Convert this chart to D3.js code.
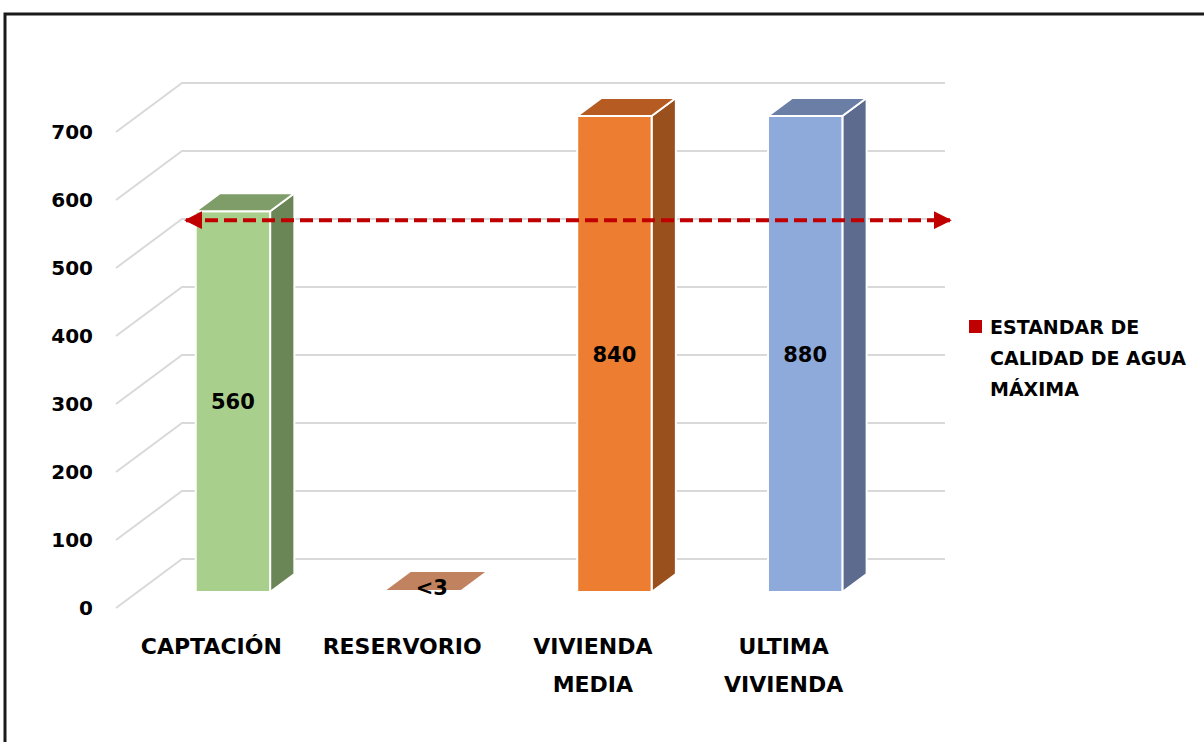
<!DOCTYPE html>
<html>
<head>
<meta charset="utf-8">
<script src="https://cdn.jsdelivr.net/npm/d3@7"></script>
<style>
  body { margin: 0; background: #fff; }
  text { font-family: "DejaVu Sans", sans-serif; font-weight: bold; fill: #000; }
</style>
</head>
<body>
<div id="plot"></div>
<script>
// data
const categories = ["CAPTACIÓN", "RESERVORIO", "VIVIENDA MEDIA", "ULTIMA VIVIENDA"];
const labelLines = [["CAPTACIÓN"], ["RESERVORIO"], ["VIVIENDA", "MEDIA"], ["ULTIMA", "VIVIENDA"]];
const values = [560, 3, 840, 880];
const valueLabels = ["560", "<3", "840", "880"];
const yTicks = [0, 100, 200, 300, 400, 500, 600, 700];
const standardValue = 560;
const legendLines = ["ESTANDAR DE", "CALIDAD DE AGUA", "MÁXIMA"];

const faceColors = [
  { front: "#A9CF8C", side: "#6A8656", top: "#7E9D68" },
  { front: "#C0825F", side: "#9A5F40", top: "#C0825F" },
  { front: "#ED7D31", side: "#9A501D", top: "#B65B22" },
  { front: "#8EAADB", side: "#5C6B8E", top: "#6A7EA6" }
];

const W = 1204, H = 742;
const svg = d3.select("#plot").append("svg")
  .attr("width", W).attr("height", H);

// floor geometry (front grid plane)
const x0 = 116, x1 = 879, yBase = 608;
const DX = 66, DY = 49;          // full floor depth offset
const barFront = 16, barDepth = 18; // bar depth position along DY
const k = DX / DY;

const x = d3.scaleBand().domain(categories).range([x0, x1])
  .paddingInner(0.61).paddingOuter(0.305);
const xStep = d3.scaleBand().domain(categories).range([x0, x1]);
const h = d3.scaleLinear().domain([0, 700]).range([0, 476]).clamp(true);

// frame
svg.append("path")
  .attr("d", `M5,${H} L5,14 L${W},14`)
  .attr("fill", "none").attr("stroke", "#1a1a1a").attr("stroke-width", 3);

// gridlines
const grid = svg.append("g");
yTicks.forEach(t => {
  const yf = yBase - h(t);
  grid.append("path")
    .attr("d", `M${x0},${yf} L${x0 + DX},${yf - DY} L${x1 + DX},${yf - DY}`)
    .attr("fill", "none").attr("stroke", "#D9D9D9").attr("stroke-width", 2);
});

// y tick labels
svg.append("g").selectAll("text").data(yTicks).join("text")
  .attr("x", 93).attr("y", d => yBase - h(d))
  .attr("dy", "0.36em")
  .attr("text-anchor", "end")
  .attr("font-size", 20)
  .text(d => d);

// bars
const bars = svg.append("g");
categories.forEach((c, i) => {
  const bx = x(c) + barFront * k;
  const bw = x.bandwidth();
  const by0 = yBase - barFront;
  const bh = h(values[i]);
  const top = by0 - bh;
  const ddx = barDepth * k, ddy = barDepth;
  const col = faceColors[i];
  const g = bars.append("g").attr("stroke", "#fff").attr("stroke-width", bh > 5 ? 2 : 0)
    .attr("stroke-linejoin", "round");
  if (bh > 5) {
    g.append("path").attr("fill", col.side)
      .attr("d", `M${bx + bw},${by0} L${bx + bw + ddx},${by0 - ddy} L${bx + bw + ddx},${top - ddy} L${bx + bw},${top} Z`);
    g.append("rect").attr("fill", col.front)
      .attr("x", bx).attr("y", top).attr("width", bw).attr("height", bh);
  }
  g.append("path").attr("fill", col.top)
    .attr("d", `M${bx},${top} L${bx + ddx},${top - ddy} L${bx + bw + ddx},${top - ddy} L${bx + bw},${top} Z`);

  // value label
  let lx = bx + bw / 2, ly = top + bh / 2;
  if (bh < 20) { lx = bx + bw / 2 + ddx / 2 - 4; ly = top - ddy / 2 + 6; }
  svg.append("text")
    .attr("x", lx).attr("y", ly).attr("dy", "0.36em")
    .attr("text-anchor", "middle").attr("font-size", 21)
    .text(valueLabels[i]);
});

// category labels
const cat = svg.append("g");
categories.forEach((c, i) => {
  const cx = xStep(c) + xStep.bandwidth() / 2;
  labelLines[i].forEach((ln, j) => {
    cat.append("text")
      .attr("x", cx).attr("y", 654 + j * 38)
      .attr("text-anchor", "middle").attr("font-size", 22)
      .text(ln);
  });
});

// standard line (dashed red double arrow)
const lineDepth = 7;
const ys = yBase - lineDepth - h(standardValue);
const defs = svg.append("defs");
defs.append("marker").attr("id", "arr")
  .attr("viewBox", "0 0 10 10").attr("refX", 9).attr("refY", 5)
  .attr("markerWidth", 4.5).attr("markerHeight", 4.5)
  .attr("markerUnits", "strokeWidth").attr("orient", "auto-start-reverse")
  .append("path").attr("d", "M0,0 L10,5 L0,10 Z").attr("fill", "#C00000");
svg.append("line")
  .attr("x1", 186).attr("x2", 950).attr("y1", ys).attr("y2", ys)
  .attr("stroke", "#C00000").attr("stroke-width", 4)
  .attr("stroke-dasharray", "13,6")
  .attr("marker-start", "url(#arr)").attr("marker-end", "url(#arr)");

// legend
const lg = svg.append("g").attr("transform", "translate(969,320)");
lg.append("rect").attr("width", 13).attr("height", 13).attr("fill", "#C00000");
lg.selectAll("text").data(legendLines).join("text")
  .attr("x", 21).attr("y", (d, i) => 14 + i * 31)
  .attr("font-size", 19)
  .text(d => d);
</script>
</body>
</html>
